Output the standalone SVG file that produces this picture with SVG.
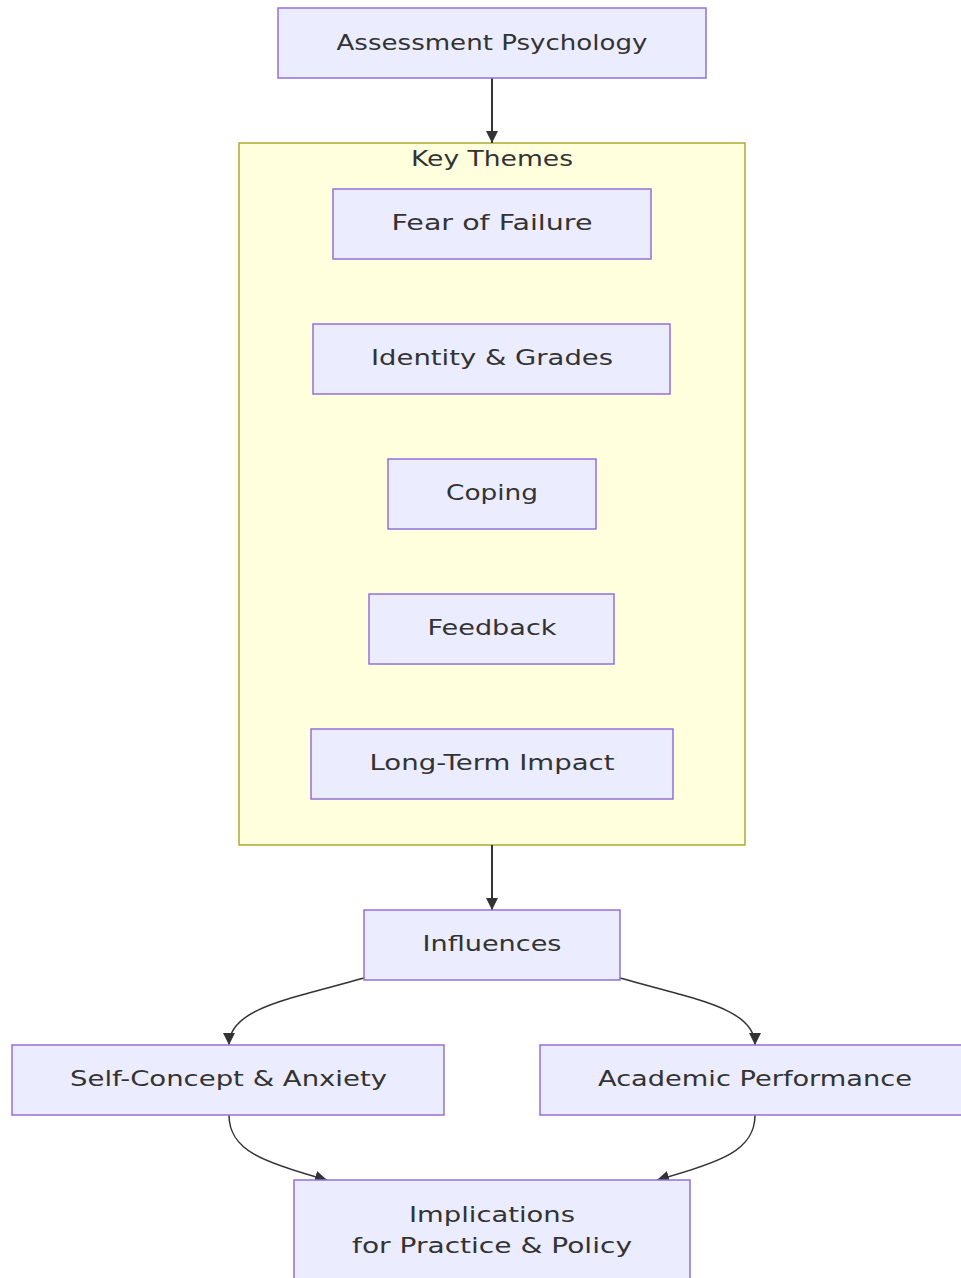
<svg xmlns="http://www.w3.org/2000/svg" width="961" height="1278" viewBox="0 0 961 1278">
<style>
.node rect{fill:#ECECFF;stroke:#9370DB;stroke-width:1.5}
.cluster rect{fill:#FFFFDE;stroke:#AAAA33;stroke-width:1.5}
text{font-family:"DejaVu Sans","Liberation Sans",sans-serif;font-size:21.5px;fill:#333;text-anchor:middle}
.edge{fill:none;stroke:#333;stroke-width:1.5}
.edge.straight{stroke-width:2}
</style>
<defs>
<marker id="arrow" viewBox="0 0 10 10" refX="10" refY="5" markerWidth="12" markerHeight="12" markerUnits="userSpaceOnUse" orient="auto">
<path d="M0,0 L10,5 L0,10 z" fill="#333"/>
</marker>
</defs>
<rect width="961" height="1278" fill="#fff"/>
<g id="cluster-key-themes" class="cluster">
<rect x="239" y="143" width="506" height="702"/>
<text x="492" y="166" textLength="162" lengthAdjust="spacingAndGlyphs">Key Themes</text>
</g>
<g id="connectors">
<path class="edge straight" d="M492,78 L492,143" marker-end="url(#arrow)"/>
<path class="edge straight" d="M492,845 L492,910" marker-end="url(#arrow)"/>
<path class="edge" d="M364,978 C290,999 229,1008 229,1045" marker-end="url(#arrow)"/>
<path class="edge" d="M620,978 C694,999 755,1008 755,1045" marker-end="url(#arrow)"/>
<path class="edge" d="M229,1115 C229,1150 262,1162 327,1180" marker-end="url(#arrow)"/>
<path class="edge" d="M755,1115 C755,1150 722,1162 657,1180" marker-end="url(#arrow)"/>
</g>
<g id="node-assessment" class="node">
<rect x="278" y="8" width="428" height="70"/>
<text x="492" y="50" textLength="311" lengthAdjust="spacingAndGlyphs">Assessment Psychology</text>
</g>
<g id="node-fear" class="node">
<rect x="333" y="189" width="318" height="70"/>
<text x="492" y="230" textLength="201" lengthAdjust="spacingAndGlyphs">Fear of Failure</text>
</g>
<g id="node-identity" class="node">
<rect x="313" y="324" width="357" height="70"/>
<text x="492" y="365" textLength="242" lengthAdjust="spacingAndGlyphs">Identity &amp; Grades</text>
</g>
<g id="node-coping" class="node">
<rect x="388" y="459" width="208" height="70"/>
<text x="492" y="500" textLength="92" lengthAdjust="spacingAndGlyphs">Coping</text>
</g>
<g id="node-feedback" class="node">
<rect x="369" y="594" width="245" height="70"/>
<text x="492" y="635" textLength="129" lengthAdjust="spacingAndGlyphs">Feedback</text>
</g>
<g id="node-longterm" class="node">
<rect x="311" y="729" width="362" height="70"/>
<text x="492" y="770" textLength="245" lengthAdjust="spacingAndGlyphs">Long-Term Impact</text>
</g>
<g id="node-influences" class="node">
<rect x="364" y="910" width="256" height="70"/>
<text x="492" y="951" textLength="139" lengthAdjust="spacingAndGlyphs">Influences</text>
</g>
<g id="node-selfconcept" class="node">
<rect x="12" y="1045" width="432" height="70"/>
<text x="228.5" y="1086" textLength="317" lengthAdjust="spacingAndGlyphs">Self-Concept &amp; Anxiety</text>
</g>
<g id="node-academic" class="node">
<rect x="540" y="1045" width="430" height="70"/>
<text x="755" y="1086" textLength="314" lengthAdjust="spacingAndGlyphs">Academic Performance</text>
</g>
<g id="node-implications" class="node">
<rect x="294" y="1180" width="396" height="110"/>
<text x="492" y="1222" textLength="166" lengthAdjust="spacingAndGlyphs">Implications</text>
<text x="492" y="1253" textLength="280" lengthAdjust="spacingAndGlyphs">for Practice &amp; Policy</text>
</g>
</svg>
